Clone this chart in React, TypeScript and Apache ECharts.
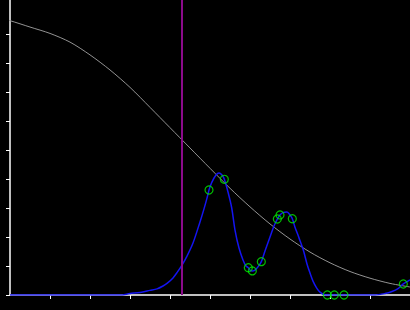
import React, { useEffect, useRef } from "react";
import * as echarts from "echarts";

// Blue smooth curve (x, y)
const curveX = [0, 2.75, 3.0, 3.25, 3.5, 3.675, 3.825, 3.925, 4.075, 4.175, 4.3, 4.425, 4.575, 4.75, 4.85, 4.925, 4.975, 5.05, 5.15, 5.225, 5.3, 5.358, 5.45, 5.543, 5.625, 5.725, 5.825, 5.9, 5.958, 6.0, 6.058, 6.125, 6.2, 6.283, 6.375, 6.5, 6.6, 6.683, 6.75, 6.825, 6.925, 7.0, 7.058, 7.125, 7.225, 7.333, 7.425, 7.5, 7.575, 7.668, 7.75, 7.875, 9.125, 9.375, 9.55, 9.7, 9.833, 10];
const curveY = [0, 0, 0.005, 0.009, 0.016, 0.021, 0.031, 0.04, 0.059, 0.077, 0.103, 0.134, 0.179, 0.252, 0.297, 0.334, 0.362, 0.39, 0.414, 0.421, 0.414, 0.399, 0.355, 0.3, 0.224, 0.162, 0.121, 0.1, 0.094, 0.086, 0.083, 0.086, 0.097, 0.115, 0.152, 0.2, 0.238, 0.262, 0.276, 0.284, 0.286, 0.276, 0.263, 0.234, 0.197, 0.155, 0.107, 0.076, 0.048, 0.024, 0.01, 0, 0, 0.005, 0.012, 0.022, 0.038, 0.052];

// Green sample points
const pointX = [4.975, 5.358, 5.958, 6.058, 6.283, 6.683, 6.75, 7.058, 7.933, 8.108, 8.35, 9.833];
const pointY = [0.362, 0.399, 0.094, 0.083, 0.115, 0.262, 0.276, 0.263, 0, 0, 0, 0.038];

// Gray decreasing curve
const grayX = [-0.25, 0, 0.5, 1.0, 1.5, 2.0, 2.5, 3.0, 3.5, 4.0, 4.5, 5.0, 5.5, 6.0, 6.5, 7.0, 7.5, 8.0, 8.5, 9.0, 9.5, 10];
const grayY = [0.955, 0.946, 0.924, 0.902, 0.872, 0.828, 0.776, 0.716, 0.647, 0.577, 0.507, 0.437, 0.368, 0.304, 0.245, 0.193, 0.148, 0.111, 0.081, 0.058, 0.04, 0.0276];

// Vertical marker
const markerX = 4.3;

// Tick values
const xTicks = [1, 2, 3, 4, 5, 6, 7, 8, 9, 10];
const yTicks = [0, 0.1, 0.2, 0.3, 0.4, 0.5, 0.6, 0.7, 0.8, 0.9];

export default function App() {
  const ref = useRef<HTMLDivElement>(null);
  useEffect(() => {
    document.body.style.margin = "0";
    const chart = echarts.init(ref.current!, null, { renderer: "svg" });
    const axisLine = { lineStyle: { color: "#ffffff", width: 1.5 } };
    chart.setOption({
      animation: false,
      backgroundColor: "#000000",
      grid: { left: 10, right: 0, top: 0, bottom: 15, containLabel: false },
      xAxis: {
        type: "value",
        min: 0,
        max: 10,
        axisLine: { ...axisLine, onZero: false },
        axisTick: { show: true, length: 4, lineStyle: { color: "#ffffff", width: 1 }, customValues: xTicks },
        axisLabel: { show: false },
        splitLine: { show: false },
      },
      yAxis: {
        type: "value",
        min: 0,
        max: 1.01724,
        axisLine: { ...axisLine, onZero: false },
        axisTick: { show: true, length: 4, lineStyle: { color: "#ffffff", width: 1 }, customValues: yTicks },
        axisLabel: { show: false },
        splitLine: { show: false },
      },
      series: [
        {
          type: "line",
          data: grayX.map((x, i) => [x, grayY[i]]),
          showSymbol: false,
          smooth: 0.3,
          clip: false,
          lineStyle: { color: "#939393", width: 1 },
          z: 2,
          markLine: {
            silent: true,
            symbol: "none",
            label: { show: false },
            lineStyle: { color: "#8b0a8b", width: 2, type: "solid" },
            data: [{ xAxis: markerX }],
          },
        },
        {
          type: "line",
          data: curveX.map((x, i) => [x, curveY[i]]),
          showSymbol: false,
          smooth: 0.3,
          lineStyle: { color: "#1414f0", width: 1.5 },
          z: 3,
        },
        {
          type: "scatter",
          data: pointX.map((x, i) => [x, pointY[i]]),
          symbol: "circle",
          symbolSize: 8,
          itemStyle: { color: "rgba(0,0,0,0)", borderColor: "#00ee00", borderWidth: 1.2 },
          z: 4,
        },
      ],
    });
    return () => chart.dispose();
  }, []);
  return <div ref={ref} style={{ width: 410, height: 310 }} />;
}
